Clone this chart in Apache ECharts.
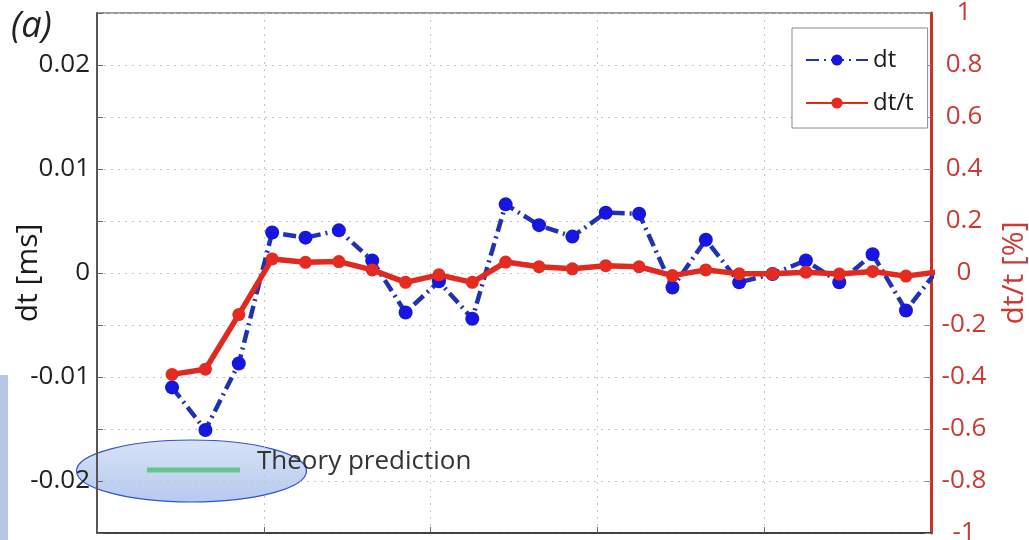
<!DOCTYPE html>
<html>
<head>
<meta charset="utf-8">
<script src="https://cdn.jsdelivr.net/npm/echarts@6/dist/echarts.min.js"></script>
<style>
  html, body { margin: 0; padding: 0; background: #ffffff; }
  #chart { width: 1029px; height: 540px; }
</style>
</head>
<body>
<div id="chart"></div>
<script>
// Sample positions (x axis, no labels shown in the figure)
const xPositions = [2.25, 3.25, 4.25, 5.25, 6.25, 7.25, 8.25, 9.25, 10.25, 11.25, 12.25, 13.25,
                    14.25, 15.25, 16.25, 17.25, 18.25, 19.25, 20.25, 21.25, 22.25, 23.25, 24.25, 25.25];
// dt [ms] (left axis)
const dtValues = [-0.0110, -0.0151, -0.0087, 0.0039, 0.0034, 0.0041, 0.0012, -0.0038, -0.0008, -0.0044,
                  0.0066, 0.0046, 0.0035, 0.0058, 0.0057, -0.0014, 0.0032, -0.0009, -0.0001, 0.0012,
                  -0.0009, 0.0018, -0.0036, 0.0005];
// dt/t [%] (right axis)
const dtRelValues = [-0.39, -0.37, -0.16, 0.054, 0.041, 0.044, 0.012, -0.036, -0.007, -0.036,
                     0.042, 0.024, 0.016, 0.028, 0.024, -0.010, 0.012, -0.003, -0.003, 0.003,
                     -0.004, 0.006, -0.012, 0.005];
const seriesNames = ['dt', 'dt/t'];
const leftAxisName = 'dt [ms]';
const rightAxisName = 'dt/t [%]';
const panelLabel = '(a)';
const annotationText = 'Theory prediction';

const FONT = 'Open Sans';
const chart = echarts.init(document.getElementById('chart'), null, { renderer: 'canvas' });

const dotted = { type: [2, 5], color: '#c4c4c4', width: 1 };

const option = {
  animation: false,
  backgroundColor: '#ffffff',
  textStyle: { fontFamily: FONT },
  grid: {
    left: 97, top: 13, right: 98, bottom: 7,
    outerBoundsMode: 'none', containLabel: false,
    show: true, borderColor: '#333', borderWidth: 1, backgroundColor: 'transparent'
  },
  legend: {
    left: 792, top: 28,
    orient: 'vertical',
    backgroundColor: '#ffffff',
    borderColor: '#8a8a8a', borderWidth: 1, borderRadius: 0,
    padding: [19, 14, 12, 13],
    itemGap: 17,
    itemWidth: 62, itemHeight: 14,
    textStyle: { fontFamily: FONT, fontSize: 24, color: '#1a1a1a', lineHeight: 26 },
    data: seriesNames
  },
  xAxis: {
    type: 'value', min: 0, max: 25, interval: 5,
    axisLine: { show: true, onZero: false, lineStyle: { color: '#222', width: 1.5 } },
    axisTick: { show: true, inside: true, length: 6, lineStyle: { color: '#666' } },
    axisLabel: { show: false },
    splitLine: { show: true, lineStyle: dotted }
  },
  yAxis: [
    {
      type: 'value', min: -0.025, max: 0.025, interval: 0.005,
      position: 'left',
      name: leftAxisName, nameLocation: 'middle', nameGap: 54, nameMoveOverlap: false,
      nameTextStyle: { fontFamily: FONT, fontSize: 30, color: '#1a1a1a' },
      axisLine: { show: true, onZero: false, lineStyle: { color: '#555', width: 2 } },
      axisTick: { show: true, inside: true, length: 6, lineStyle: { color: '#666' } },
      axisLabel: {
        fontFamily: FONT, fontSize: 26, color: '#1f1f1f', margin: 7,
        formatter: function (v) {
          const k = Math.round(v * 1000);
          if (k % 10 !== 0 || Math.abs(k) > 20) return '';
          return k === 0 ? '0' : String(k / 1000);
        }
      },
      splitLine: { show: true, lineStyle: dotted }
    },
    {
      type: 'value', min: -1, max: 1, interval: 0.2,
      position: 'right',
      name: rightAxisName, nameLocation: 'middle', nameGap: 68, nameMoveOverlap: false,
      nameTextStyle: { fontFamily: FONT, fontSize: 30, color: '#cc3a33' },
      axisLine: { show: true, onZero: false, lineStyle: { color: '#c8322b', width: 3 } },
      axisTick: { show: true, inside: true, length: 6, lineStyle: { color: '#888' } },
      axisLabel: {
        fontFamily: FONT, fontSize: 26, color: '#cc3a33', margin: 33, align: 'center',
        formatter: function (v) {
          const k = Math.round(v * 10);
          return k === 0 ? '0' : String(k / 10);
        }
      },
      splitLine: { show: false }
    }
  ],
  series: [
    {
      name: seriesNames[0], type: 'line', yAxisIndex: 0,
      data: xPositions.map((x, i) => [x, dtValues[i]]),
      clip: true,
      symbol: 'circle', symbolSize: 14,
      itemStyle: { color: '#1616e0' },
      lineStyle: { color: '#1f33b0', width: 4.5, type: [13, 5, 2, 5] },
      z: 3
    },
    {
      name: seriesNames[1], type: 'line', yAxisIndex: 1,
      data: xPositions.map((x, i) => [x, dtRelValues[i]]),
      clip: true,
      symbol: 'circle', symbolSize: 13,
      itemStyle: { color: '#e52b1f' },
      lineStyle: { color: '#e0291f', width: 5.5 },
      z: 4
    }
  ],
  graphic: [
    { type: 'rect', left: 0, top: 375, shape: { width: 8, height: 165 }, style: { fill: '#b4c7e7' }, z: 1 },
    {
      type: 'ellipse',
      shape: { cx: 191.5, cy: 471, rx: 115, ry: 31 },
      style: {
        fill: new echarts.graphic.LinearGradient(0, 0, 0, 1, [
          { offset: 0, color: 'rgba(210,222,245,0.88)' },
          { offset: 1, color: 'rgba(172,194,236,0.88)' }
        ]),
        stroke: '#2f55c8', lineWidth: 1.2
      },
      z: -1
    },
    { type: 'line', shape: { x1: 147, y1: 470, x2: 240, y2: 470 }, style: { stroke: '#62c78c', lineWidth: 5 }, z: 6 },
    {
      type: 'text', left: 257, top: 449,
      style: { text: annotationText, font: '26px "Open Sans"', fill: '#333333' }, z: 7
    },
    {
      type: 'text', left: 11, top: 9,
      style: { text: panelLabel, font: 'italic 36px "Open Sans"', fill: '#222222' }, z: 7
    }
  ]
};
chart.setOption(option);
</script>
</body>
</html>
